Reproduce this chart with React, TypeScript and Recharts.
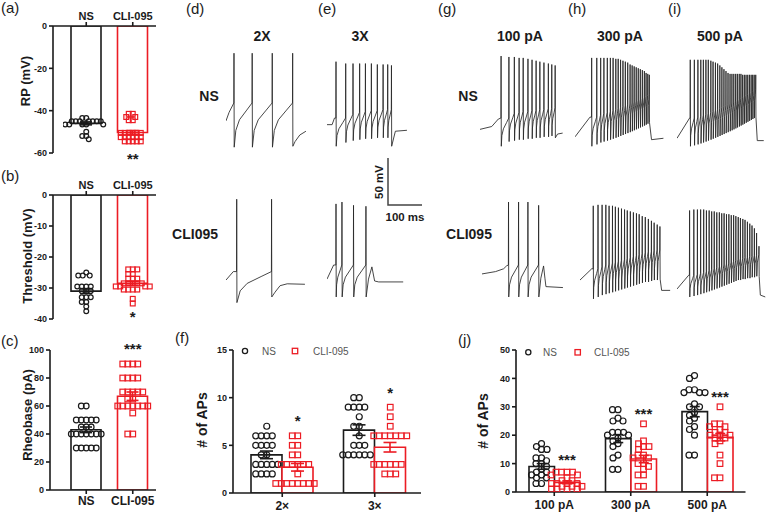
import React from "react";
import {
  ComposedChart, Bar, Cell, ErrorBar, Scatter, XAxis, YAxis, ReferenceDot,
  LineChart, Line,
} from "recharts";

const FONT = '"Liberation Sans", Arial, Helvetica, sans-serif';
const INK = "#1b1b1b";
const RED = "#ec1c24";
const GREY = "#555";

// ---------- (a)-(c) single measures, NS vs CLI-095 ----------
const groups = ["NS", "CLI-095"];

const rpMean = [-46, -50.3];
const rpSem = [0.7, 0.9];
const rpTicks = [0, -20, -40, -60];
const rpNS = [-43.5, -43.5, -45, -45, -45, -45, -45, -45, -45, -46.5, -46.5, -46.5, -46.5, -46.5, -50, -52, -52, -53.5];
const rpCLI = [-41.5, -41.5, -43, -43, -44.5, -44.5, -50.5, -50.5, -50.5, -50.5, -50.5, -50.5,
  -52.5, -52.5, -52.5, -52.5, -52.5, -52.5, -54.5, -54.5, -54.5, -54.5, -54.5];
const rpStar = -61.5;

const thrMean = [-31, -28.5];
const thrSem = [0.8, 0.6];
const thrTicks = [0, -10, -20, -30, -40];
const thrNS = [-25, -26, -26, -26, -29.5, -29.5, -29.5, -29.5, -31, -31, -31, -33, -33, -33, -34.5, -34.5, -36, -37.5];
const thrCLI = [-24, -24, -24, -25.5, -25.5, -27, -27, -27, -28.5, -28.5, -28.5, -28.5, -28.5,
  -29.5, -29.5, -29.5, -29.5, -30.5, -30.5, -30.5, -30.5, -33.5, -35];
const thrStar = -38.3;

const rheoMean = [43, 67];
const rheoSem = [2, 3];
const rheoTicks = [0, 20, 40, 60, 80, 100];
const rheoNS = [60, 60, 50, 50, 50, 50, 50, 45, 45, 45, 40, 40, 40, 40, 40, 40, 40, 30, 30, 30, 30, 30];
const rheoCLI = [90, 90, 90, 90, 80, 80, 80, 80, 70, 70, 70, 70, 70, 65, 65, 60, 60, 60, 60, 60, 60, 60, 55, 40, 40];
const rheoStar = 103;

// ---------- (f) number of APs at 2x / 3x rheobase ----------
const foldCats = ["2×", "3×"];
const foldNsMean = [4.0, 6.6];
const foldNsSem = [0.4, 0.55];
const foldCliMean = [2.7, 4.8];
const foldCliSem = [0.4, 0.5];
const foldNs = [
  [7, 6, 6, 6, 6, 5, 5, 5, 5, 4, 4, 3, 3, 3, 3, 3, 2, 2, 2, 2],
  [10, 10, 9, 9, 9, 9, 8, 7, 7, 6, 5, 5, 5, 4, 4, 4, 4, 4, 4],
];
const foldCli = [
  [6, 6, 5, 5, 4, 4, 3, 3, 3, 3, 3, 3, 2, 1, 1, 1, 1, 1, 1, 1, 1],
  [9, 8, 7, 6, 6, 6, 6, 6, 6, 6, 3, 3, 3, 3, 3, 3, 2, 2, 2],
];
const foldStars = [7.9, 10.8];
const foldTicks = [0, 5, 10, 15];

// ---------- (j) number of APs at 100 / 300 / 500 pA ----------
const currCats = ["100 pA", "300 pA", "500 pA"];
const currNsMean = [9, 18.8, 28.3];
const currNsSem = [1, 1.4, 1.8];
const currCliMean = [3.4, 11.6, 19.3];
const currCliSem = [0.5, 1.3, 1.3];
const currNs = [
  [17, 16, 15, 15, 12, 12, 11, 10, 10, 9, 8, 7, 7, 6, 6, 5, 5, 3, 3],
  [29, 29, 26, 25, 25, 21, 21, 21, 20, 20, 19, 18, 17, 16, 13, 12, 8, 8],
  [41, 40, 36, 36, 35, 35, 35, 31, 30, 30, 28, 27, 26, 25, 23, 22, 20, 13, 13],
];
const currCli = [
  [7, 7, 7, 7, 6, 6, 5, 4, 4, 3, 3, 3, 3, 2, 2, 2, 1, 1, 1, 1],
  [24, 18, 17, 16, 16, 15, 13, 13, 12, 12, 10, 10, 9, 8, 6, 6, 2, 2],
  [30, 24, 24, 23, 23, 22, 21, 21, 20, 20, 20, 19, 19, 18, 17, 13, 10, 5, 5],
];
const currStars = [12.3, 28.5, 34.5];
const currTicks = [0, 10, 20, 30, 40, 50];

// ---------- (d,e,g,h,i) voltage traces: time (ms), membrane potential (mV) ----------
type Trace = {
  start: [number, number][];
  spikes: number[];
  peaks: number[];
  troughs: number[];
  ramp: number;
  tail: [number, number][];
};

const trace2xNS: Trace = {
  start: [[0, -40], [9, -31]],
  spikes: [23.5, 77, 136, 196],
  peaks: [32, 32, 32, 32],
  troughs: [-68, -68, -68, -67],
  ramp: 47,
  tail: [[203, -62], [217, -55], [235, -51]],
};
const trace2xCLI: Trace = {
  start: [[0, -54], [21.5, -45]],
  spikes: [31.5, 134],
  peaks: [32, 32],
  troughs: [-78, -72],
  ramp: 33,
  tail: [[144, -67], [159, -60], [180, -58], [232, -58.5]],
};
const trace3xNS: Trace = {
  start: [[0, -44], [15, -44], [22, -37]],
  spikes: [26.5, 55, 76.5, 96, 113, 130.5, 148, 165, 178.5, 189.5],
  peaks: [23, 21, 21, 21, 21, 21, 20, 20, 20, 19],
  troughs: [-67, -63, -61, -60, -59, -59, -58, -58, -58, -67],
  ramp: 30,
  tail: [[201, -51], [235, -50]],
};
const trace3xCLI: Trace = {
  start: [[0, -53], [19.5, -38]],
  spikes: [26.5, 44, 78, 114.5],
  peaks: [27, 29, 25.5, 24.5],
  troughs: [-72, -72, -72, -72],
  ramp: 34,
  tail: [[122, -53], [132, -40], [140, -55], [152, -56], [224, -56]],
};
const trace100NS: Trace = {
  start: [[0, -49], [34.5, -46], [54, -38]],
  spikes: [62, 85, 101, 115, 127, 141, 153, 165, 176, 188, 201, 211, 221],
  peaks: [29, 28, 28, 27, 27, 26, 25, 24, 23, 22, 21, 20, 19],
  troughs: [-67, -62, -61, -60, -60, -59, -59, -58, -58, -57, -57, -56, -58],
  ramp: 30,
  tail: [[228, -54], [243, -53]],
};
const trace100CLI: Trace = {
  start: [[0, -47.5], [40, -45], [63.5, -42], [72, -39]],
  spikes: [78, 107.5, 135, 166.5],
  peaks: [29, 29, 29, 25.5],
  troughs: [-72, -72, -72, -72],
  ramp: 34,
  tail: [[173, -52], [181, -39], [185, -52], [188, -61], [238, -62]],
};
const trace300NS: Trace = {
  start: [[0, -57], [44, -36]],
  spikes: [49, 64, 75.5, 85, 95, 104, 112, 120, 127, 134, 141, 148, 155, 162, 168, 174, 180, 186, 192, 198, 204, 209, 214, 218.5],
  peaks: [27, 27, 27, 27, 27, 27, 27, 26, 26, 25, 24, 23, 22, 20, 19, 18, 17, 16, 15, 14, 13, 11, 10, 9],
  troughs: [-67, -65, -63, -62, -61, -60, -59, -58, -57, -56, -55, -54, -53, -52, -51, -50, -49, -48, -47, -46, -45, -44, -43, -42],
  ramp: 31,
  tail: [[225, -60], [260, -58.5]],
};
const trace300CLI: Trace = {
  start: [[0, -54], [34.5, -42]],
  spikes: [39, 53, 65, 76, 85.5, 95.5, 104, 113, 122, 131, 139, 148, 157, 166, 174, 183, 192, 201, 210, 218, 227, 235],
  peaks: [25, 26, 26, 26, 25, 25, 24, 23, 22, 21, 20, 19, 18, 17, 16, 14, 13, 11, 9, 7, 5, 3],
  troughs: [-74, -72, -70, -69, -68, -67, -66, -65, -64, -63, -62, -61, -60, -59, -58, -57, -56, -56, -55, -54, -54, -53],
  ramp: 32,
  tail: [[240, -65], [265, -65]],
};
const trace500NS: Trace = {
  start: [[0, -58.5], [37, -37]],
  spikes: [39, 51, 61.5, 70, 77.5, 85, 92, 99.5, 106, 113, 119.5, 126, 132, 138, 144, 150, 156, 161.5, 167, 172.5,
    177.5, 183, 188, 193, 198, 203, 208, 213, 218, 222.5, 227, 231.5],
  peaks: [25, 25, 25, 25, 25, 25, 25, 24, 23, 22, 21, 19, 17, 15, 13, 11, 10, 10, 10, 10, 10, 10, 10, 9, 9, 9, 9, 9, 9, 9, 9, 9],
  troughs: [-67, -66, -65, -64, -63, -62, -61, -60, -59, -58, -57, -56, -55, -54, -53, -52, -51, -50, -49, -48,
    -47, -46, -45, -44, -43, -42, -41, -40, -39, -38, -37, -36],
  ramp: 30,
  tail: [[236, -61], [255, -61]],
};
const trace500CLI: Trace = {
  start: [[0, -63.5], [34, -49]],
  spikes: [37, 49.5, 60, 69.5, 78.5, 86.5, 94.5, 102, 109.5, 117, 124.5, 131.5, 138.5, 145.5, 152.5, 159.5, 166.5, 173,
    180, 186.5, 193.5, 200, 207, 214, 220.5, 227.5, 234, 241],
  peaks: [20, 21, 21, 21, 21, 20, 20, 19, 19, 18, 18, 17, 17, 16, 16, 15, 15, 14, 13, 12, 11, 10, 8, 6, 4, 1, -4, -18],
  troughs: [-72, -71, -70, -69, -68, -67, -66, -65, -64, -63, -62, -61, -60, -59, -58, -57, -56, -55, -54, -54,
    -53, -53, -52, -52, -51, -51, -50, -50],
  ramp: 23,
  tail: [[245, -70], [259.5, -72]],
};

// scale bar: 50 mV / 100 ms
const scaleT = [0, 0, 100];
const scaleV = [50, 0, 0];

// ---------- helpers ----------
const MS_PX = 2.94;
const MV_PX = 1.064;
const TW = 96;
const TH = 135;
const V_HI = 45;
const ROW_NS = 83;
const ROW_CLI = 229;

// AHP recovery: fraction of the ISI vs fraction of the ramp reached
const recT = [0.1, 0.3, 0.7];
const recV = [0.38, 0.62, 0.84];

function buildTrace(tr: Trace) {
  const pts: { t: number; v: number }[] = tr.start.map(([t, v]) => ({ t, v }));
  tr.spikes.forEach((t, i) => {
    const prev = i === 0 ? tr.troughs[0] : tr.troughs[i - 1];
    if (i > 0) {
      const t0 = tr.spikes[i - 1];
      const isi = t - t0;
      recT.forEach((f, k) => {
        if (f * isi > 0.8) pts.push({ t: t0 + f * isi, v: prev + recV[k] * tr.ramp });
      });
    }
    pts.push({ t: t - 0.5, v: prev + tr.ramp }, { t, v: tr.peaks[i] }, { t: t + 0.6, v: tr.troughs[i] });
  });
  tr.tail.forEach(([t, v]) => pts.push({ t, v }));
  return pts;
}

function swarm(values: number[], center: number, pxX: number, pxY: number, gap: number) {
  const placed: { dx: number; py: number }[] = [];
  return [...values].sort((a, b) => b - a).map((v) => {
    const py = v * pxY;
    let dx = 0;
    for (let k = 0; k < 400; k++) {
      const cand = (k % 2 === 0 ? 1 : -1) * Math.ceil(k / 2) * 0.5;
      if (placed.every((p) => Math.hypot(p.dx - cand, p.py - py) >= gap)) { dx = cand; break; }
    }
    placed.push({ dx, py });
    return { x: center + dx / pxX, y: v };
  });
}

const circleShape = (r: number) => (p: any) => (
  <circle cx={p.cx} cy={p.cy} r={r} fill="none" stroke={INK} strokeWidth={1.2} />
);
const squareShape = (s: number) => (p: any) => (
  <rect x={p.cx - s / 2} y={p.cy - s / 2} width={s} height={s} fill="none" stroke={RED} strokeWidth={1.2} />
);
const starShape = (label: string) => (p: any) => (
  <text x={p.cx} y={p.cy + 8} textAnchor="middle" fontSize={15} fontWeight={700} fill={INK} fontFamily={FONT}>
    {label}
  </text>
);

const axisStyle = { stroke: INK, strokeWidth: 1.6 };
const tickFont = (size: number) => ({ fontSize: size, fontWeight: 700, fill: INK, fontFamily: FONT });

type Margin = { top: number; right: number; bottom: number; left: number };

function SinglePanel(p: {
  left: number; top: number; width: number; height: number; margin: Margin;
  xTop: boolean; xHeight: number; yWidth: number; pad: number; xFont: number;
  domain: [number, number]; ticks: number[]; mean: number[]; sem: number[];
  ns: number[]; cli: number[]; star: string; starY: number; r: number; gap: number;
}) {
  const data = groups.map((g, i) => ({
    name: g, mean: p.mean[i],
    semNs: i === 0 ? p.sem[0] : undefined,
    semCli: i === 1 ? p.sem[1] : undefined,
  }));
  const pxX = (p.width - p.margin.left - p.margin.right - p.yWidth - p.pad) / 2;
  const pxY = (p.height - p.margin.top - p.margin.bottom - p.xHeight) / (p.domain[1] - p.domain[0]);
  const nsPts = swarm(p.ns, 0.5, pxX, pxY, p.gap);
  const cliPts = swarm(p.cli, 1.5, pxX, pxY, p.gap);
  return (
    <div style={{ position: "absolute", left: p.left, top: p.top }}>
      <ComposedChart width={p.width} height={p.height} data={data} margin={p.margin}>
        <XAxis dataKey="name" orientation={p.xTop ? "top" : "bottom"} height={p.xHeight}
          padding={{ left: p.pad, right: 0 }} axisLine={axisStyle} tickLine={axisStyle} tickSize={4}
          tick={tickFont(p.xFont)} interval={0} />
        <XAxis xAxisId="pts" type="number" dataKey="x" domain={[0, 2]} hide allowDataOverflow
          padding={{ left: p.pad, right: 0 }} />
        <YAxis width={p.yWidth} domain={p.domain} ticks={p.ticks} interval={0} allowDataOverflow
          axisLine={axisStyle} tickLine={axisStyle} tickSize={4} tick={tickFont(9)} />
        <YAxis yAxisId="pts" dataKey="y" domain={p.domain} hide allowDataOverflow />
        <Bar dataKey="mean" barSize={30} fill="#fff" strokeWidth={1.6} isAnimationActive={false}>
          {data.map((d, i) => <Cell key={d.name} stroke={i === 0 ? INK : RED} />)}
          <ErrorBar dataKey="semNs" width={6} stroke={INK} strokeWidth={1.6} direction="y" />
          <ErrorBar dataKey="semCli" width={6} stroke={RED} strokeWidth={1.6} direction="y" />
        </Bar>
        <Scatter data={nsPts} xAxisId="pts" yAxisId="pts" shape={circleShape(p.r)} isAnimationActive={false} />
        <Scatter data={cliPts} xAxisId="pts" yAxisId="pts" shape={squareShape(p.r * 2)} isAnimationActive={false} />
        <ReferenceDot xAxisId="pts" yAxisId="pts" x={1.5} y={p.starY} r={0} ifOverflow="visible"
          shape={starShape(p.star)} />
      </ComposedChart>
    </div>
  );
}

function GroupPanel(p: {
  left: number; top: number; width: number; height: number; margin: Margin;
  xHeight: number; yWidth: number; pad: number; barSize: number; errW: number;
  cats: string[]; domain: [number, number]; ticks: number[];
  nsMean: number[]; nsSem: number[]; cliMean: number[]; cliSem: number[];
  ns: number[][]; cli: number[][]; starY: number[]; star: string; gap: number;
}) {
  const n = p.cats.length;
  const data = p.cats.map((c, i) => ({
    name: c, ns: p.nsMean[i], cli: p.cliMean[i], nsSem: p.nsSem[i], cliSem: p.cliSem[i],
  }));
  const pxX = (p.width - p.margin.left - p.margin.right - p.yWidth - p.pad) / n;
  const pxY = (p.height - p.margin.top - p.margin.bottom - p.xHeight) / (p.domain[1] - p.domain[0]);
  const off = p.barSize / 2 / pxX;
  const nsPts = p.ns.flatMap((vals, i) => swarm(vals, i + 0.5 - off, pxX, pxY, p.gap));
  const cliPts = p.cli.flatMap((vals, i) => swarm(vals, i + 0.5 + off, pxX, pxY, p.gap));
  return (
    <div style={{ position: "absolute", left: p.left, top: p.top }}>
      <ComposedChart width={p.width} height={p.height} data={data} margin={p.margin} barGap={0}>
        <XAxis dataKey="name" height={p.xHeight} padding={{ left: p.pad, right: 0 }}
          axisLine={axisStyle} tickLine={axisStyle} tickSize={4} tickMargin={4}
          tick={tickFont(12)} interval={0} />
        <XAxis xAxisId="pts" type="number" dataKey="x" domain={[0, n]} hide allowDataOverflow
          padding={{ left: p.pad, right: 0 }} />
        <YAxis width={p.yWidth} domain={p.domain} ticks={p.ticks} interval={0} allowDataOverflow
          axisLine={axisStyle} tickLine={axisStyle} tickSize={4} tick={tickFont(9)} />
        <YAxis yAxisId="pts" dataKey="y" domain={p.domain} hide allowDataOverflow />
        <Bar dataKey="ns" barSize={p.barSize} fill="#fff" stroke={INK} strokeWidth={1.6} isAnimationActive={false}>
          <ErrorBar dataKey="nsSem" width={p.errW} stroke={INK} strokeWidth={1.6} direction="y" />
        </Bar>
        <Bar dataKey="cli" barSize={p.barSize} fill="#fff" stroke={RED} strokeWidth={1.6} isAnimationActive={false}>
          <ErrorBar dataKey="cliSem" width={p.errW} stroke={RED} strokeWidth={1.6} direction="y" />
        </Bar>
        <Scatter data={nsPts} xAxisId="pts" yAxisId="pts" shape={circleShape(3)} isAnimationActive={false} />
        <Scatter data={cliPts} xAxisId="pts" yAxisId="pts" shape={squareShape(5.6)} isAnimationActive={false} />
        {p.starY.map((y, i) => (
          <ReferenceDot key={i} xAxisId="pts" yAxisId="pts" x={i + 0.5 + off} y={y} r={0}
            ifOverflow="visible" shape={starShape(p.star)} />
        ))}
      </ComposedChart>
    </div>
  );
}

function TraceChart({ trace, left, zeroY }: { trace: Trace; left: number; zeroY: number }) {
  const data = buildTrace(trace);
  return (
    <div style={{ position: "absolute", left, top: zeroY - V_HI / MV_PX }}>
      <LineChart width={TW} height={TH} data={data} margin={{ top: 0, right: 0, bottom: 0, left: 0 }}>
        <XAxis type="number" dataKey="t" domain={[0, TW * MS_PX]} hide allowDataOverflow />
        <YAxis type="number" domain={[V_HI - TH * MV_PX, V_HI]} hide allowDataOverflow />
        <Line dataKey="v" type="linear" stroke="#262626" strokeWidth={0.85} dot={false} isAnimationActive={false} />
      </LineChart>
    </div>
  );
}

function ScaleBar() {
  const data = scaleT.map((t, i) => ({ t, v: scaleV[i] }));
  return (
    <div style={{ position: "absolute", left: 386, top: 154 }}>
      <LineChart width={40} height={56} data={data} margin={{ top: 0, right: 0, bottom: 0, left: 0 }}>
        <XAxis type="number" dataKey="t" domain={[-2 * MS_PX, 38 * MS_PX]} hide allowDataOverflow />
        <YAxis type="number" domain={[-5 * MV_PX, 51 * MV_PX]} hide allowDataOverflow />
        <Line dataKey="v" type="linear" stroke="#444" strokeWidth={1.5} dot={false} isAnimationActive={false} />
      </LineChart>
    </div>
  );
}

const T = (p: { x: number; y: number; s: number; b?: boolean; a?: "start" | "middle" | "end"; rot?: boolean; c?: string; children: string }) =>
  p.rot ? (
    <text transform={`translate(${p.x},${p.y}) rotate(-90)`} textAnchor="middle" dominantBaseline="central"
      fontSize={p.s} fontWeight={p.b ? 700 : 400} fill={p.c ?? INK} fontFamily={FONT}>{p.children}</text>
  ) : (
    <text x={p.x} y={p.y} textAnchor={p.a ?? "start"} fontSize={p.s} fontWeight={p.b ? 700 : 400}
      fill={p.c ?? INK} fontFamily={FONT}>{p.children}</text>
  );

export default function App() {
  return (
    <div style={{ position: "absolute", left: 0, top: 0, width: 768, height: 515, background: "#fff", overflow: "hidden" }}>
      <SinglePanel left={0} top={0} width={165} height={170} margin={{ top: 6, right: 9, bottom: 17, left: 0 }}
        xTop xHeight={20} yWidth={53} pad={10} xFont={11} domain={[-60, 0]} ticks={rpTicks}
        mean={rpMean} sem={rpSem} ns={rpNS} cli={rpCLI} star="**" starY={rpStar} r={2.4} gap={4} />
      <SinglePanel left={0} top={165} width={165} height={165} margin={{ top: 10, right: 9, bottom: 11, left: 0 }}
        xTop xHeight={20} yWidth={53} pad={10} xFont={11} domain={[-40, 0]} ticks={thrTicks}
        mean={thrMean} sem={thrSem} ns={thrNS} cli={thrCLI} star="*" starY={thrStar} r={2.4} gap={4.5} />
      <SinglePanel left={0} top={330} width={165} height={185} margin={{ top: 20, right: 9, bottom: 3, left: 0 }}
        xTop={false} xHeight={22} yWidth={50} pad={13} xFont={12} domain={[0, 100]} ticks={rheoTicks}
        mean={rheoMean} sem={rheoSem} ns={rheoNS} cli={rheoCLI} star="***" starY={rheoStar} r={2.8} gap={5} />
      <GroupPanel left={160} top={330} width={270} height={185} margin={{ top: 20, right: 9, bottom: 2, left: 0 }}
        xHeight={20} yWidth={73} pad={3} barSize={31} errW={6.5} cats={foldCats} domain={[0, 15]} ticks={foldTicks}
        nsMean={foldNsMean} nsSem={foldNsSem} cliMean={foldCliMean} cliSem={foldCliSem}
        ns={foldNs} cli={foldCli} starY={foldStars} star="*" gap={5.5} />
      <GroupPanel left={430} top={330} width={338} height={185} margin={{ top: 20, right: 22.5, bottom: 2, left: 0 }}
        xHeight={21} yWidth={86} pad={0} barSize={25.5} errW={5} cats={currCats} domain={[0, 50]} ticks={currTicks}
        nsMean={currNsMean} nsSem={currNsSem} cliMean={currCliMean} cliSem={currCliSem}
        ns={currNs} cli={currCli} starY={currStars} star="***" gap={5.5} />

      <TraceChart trace={trace2xNS} left={226} zeroY={ROW_NS} />
      <TraceChart trace={trace2xCLI} left={226} zeroY={ROW_CLI} />
      <TraceChart trace={trace3xNS} left={326.7} zeroY={ROW_NS} />
      <TraceChart trace={trace3xCLI} left={326.7} zeroY={ROW_CLI} />
      <TraceChart trace={trace100NS} left={480} zeroY={ROW_NS} />
      <TraceChart trace={trace100CLI} left={481.7} zeroY={ROW_CLI} />
      <TraceChart trace={trace300NS} left={575} zeroY={ROW_NS} />
      <TraceChart trace={trace300CLI} left={580} zeroY={ROW_CLI} />
      <TraceChart trace={trace500NS} left={676.7} zeroY={ROW_NS} />
      <TraceChart trace={trace500CLI} left={676.7} zeroY={ROW_CLI} />
      <ScaleBar />

      <svg width={768} height={515} style={{ position: "absolute", left: 0, top: 0, pointerEvents: "none" }}>
        <T x={1} y={13} s={15}>(a)</T>
        <T x={1} y={181} s={15}>(b)</T>
        <T x={1} y={346} s={15}>(c)</T>
        <T x={186} y={14} s={15}>(d)</T>
        <T x={318} y={14} s={15}>(e)</T>
        <T x={438} y={14} s={15}>(g)</T>
        <T x={568} y={14} s={15}>(h)</T>
        <T x={668} y={14} s={15}>(i)</T>
        <T x={175} y={343} s={15}>(f)</T>
        <T x={458} y={345} s={15}>(j)</T>

        <T x={262} y={41} s={14} b a="middle">2X</T>
        <T x={360} y={41} s={14} b a="middle">3X</T>
        <T x={520} y={41} s={14} b a="middle">100 pA</T>
        <T x={620} y={41} s={14} b a="middle">300 pA</T>
        <T x={720} y={41} s={14} b a="middle">500 pA</T>

        <T x={209} y={101} s={14} b a="middle">NS</T>
        <T x={218} y={239} s={14} b a="end">CLI095</T>
        <T x={468} y={101} s={14} b a="middle">NS</T>
        <T x={469} y={239} s={14} b a="middle">CLI095</T>

        <T x={25} y={81} s={13} b rot>RP (mV)</T>
        <T x={27} y={256} s={13} b rot>Threshold (mV)</T>
        <T x={27} y={415} s={13} b rot>Rheobase (pA)</T>
        <T x={202} y={420} s={14} b rot># of APs</T>
        <T x={483} y={421} s={14} b rot># of APs</T>

        <T x={379} y={182} s={11.5} b rot>50 mV</T>
        <T x={405} y={221} s={11.5} b a="middle">100 ms</T>

        <circle cx={245} cy={351} r={2.6} fill="none" stroke={INK} strokeWidth={1.3} />
        <T x={262} y={354.5} s={10} c={GREY}>NS</T>
        <rect x={292.3} y={348.3} width={5.4} height={5.4} fill="none" stroke={RED} strokeWidth={1.3} />
        <T x={313} y={354.5} s={10} c={GREY}>CLI-095</T>

        <circle cx={528.3} cy={352.3} r={2.6} fill="none" stroke={INK} strokeWidth={1.3} />
        <T x={543} y={356} s={10} c={GREY}>NS</T>
        <rect x={575} y={349.6} width={5.4} height={5.4} fill="none" stroke={RED} strokeWidth={1.3} />
        <T x={594} y={356} s={10} c={GREY}>CLI-095</T>
      </svg>
    </div>
  );
}
